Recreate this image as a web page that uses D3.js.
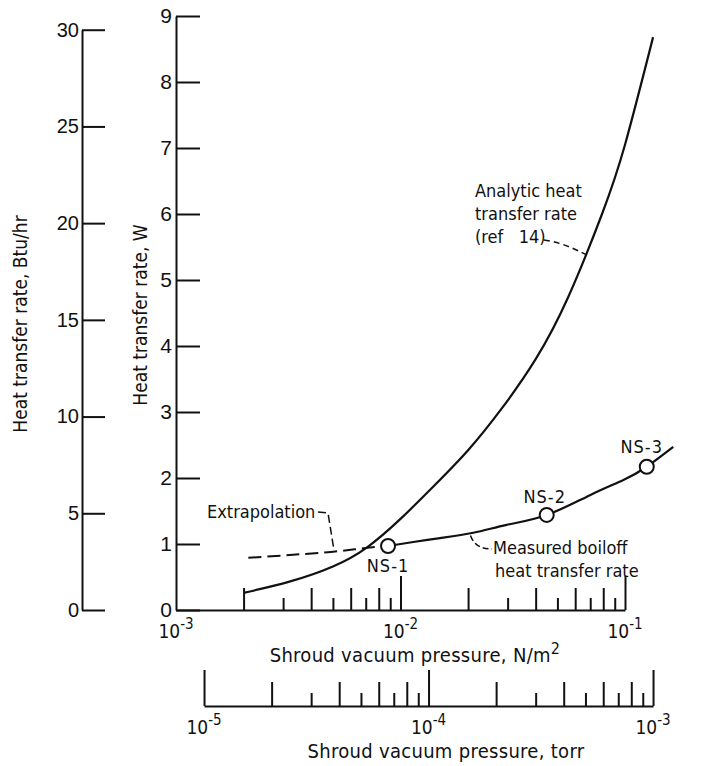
<!DOCTYPE html>
<html>
<head>
<meta charset="utf-8">
<script src="https://cdn.jsdelivr.net/npm/d3@7"></script>
<style>
  html, body { margin: 0; padding: 0; background: #fff; }
  svg { display: block; font-family: 'DejaVu Sans Condensed', 'DejaVu Sans', sans-serif; font-stretch: condensed; }
  .pre { white-space: pre; }
</style>
</head>
<body>
<svg id="chart" width="703" height="766"></svg>
<script>
// Analytic heat transfer rate (ref 14): shroud pressure (N/m^2) vs. heat rate (W)
const analyticPressure = [0.002, 0.0032, 0.005, 0.0071, 0.010, 0.0141, 0.020, 0.0282, 0.040, 0.056, 0.079, 0.100, 0.1334];
const analyticRate     = [0.26,  0.43,   0.66,  0.95,   1.38,  1.88,   2.42,  3.05,   3.80,  4.75,  6.00,  7.05,  8.68];

// Measured boiloff heat transfer rate
const measuredPressure = [0.0088, 0.0114, 0.0150, 0.0211, 0.0297, 0.0448, 0.0698, 0.0984, 0.125, 0.164];
const measuredRate     = [0.97,   1.03,   1.09,   1.17,   1.29,   1.44,   1.74,   1.97,   2.17,  2.47];

// Extrapolation of the measured curve to lower pressure
const extrapPressure = [0.0021, 0.0049, 0.0066, 0.0088];
const extrapRate     = [0.79,   0.88,   0.93,   0.97];

// Test points
const testNames    = ["NS-1", "NS-2", "NS-3"];
const testPressure = [0.0088, 0.0448, 0.125];
const testRate     = [0.97,   1.44,   2.17];

// Axis ticks
const rateTicksW     = [0, 1, 2, 3, 4, 5, 6, 7, 8, 9];
const rateTicksBtu   = [0, 5, 10, 15, 20, 25, 30];
const paDecades      = [1e-3, 1e-2, 1e-1];
const torrDecades    = [1e-5, 1e-4, 1e-3];

const BTU_PER_HR_PER_W = 3.41214;
const PA_PER_TORR = 133.322;

const svg = d3.select("#chart");
const ink = "#111";

const x = d3.scaleLog().domain([1e-3, 1e-1]).range([176, 625]);
const y = d3.scaleLinear().domain([0, 9]).range([610, 16]);
const yBtu = d3.scaleLinear().domain([0, 30]).range([y(0), y(30 / BTU_PER_HR_PER_W)]);
const xTorr = d3.scaleLog().domain([1e-5, 1e-3])
  .range([x(1e-5 * PA_PER_TORR), x(1e-3 * PA_PER_TORR)]);

// tick length by mantissa: decade long, even multiples medium, odd short
function logTickLen(d, major, even, odd) {
  const m = Math.round(d / Math.pow(10, Math.floor(Math.log10(d) + 1e-9)));
  return m === 1 ? major : (m % 2 === 0 ? even : odd);
}

function styleAxis(g) {
  g.selectAll("path.domain").attr("stroke", ink).attr("stroke-width", 2);
  g.selectAll(".tick line").attr("stroke", ink).attr("stroke-width", 2);
  g.selectAll(".tick text").attr("fill", ink);
}

// ---- Heat rate, W (inner left axis)
const gW = svg.append("g").attr("transform", `translate(${x.range()[0]},0)`)
  .call(d3.axisLeft(y).tickValues(rateTicksW).tickFormat(d3.format("d"))
    .tickSizeInner(-24).tickSizeOuter(0).tickPadding(4));
styleAxis(gW);
gW.selectAll(".tick text").attr("font-size", 21).attr("font-family", "inherit");

// ---- Heat rate, Btu/hr (outer left axis)
const gB = svg.append("g").attr("transform", "translate(82,0)")
  .call(d3.axisLeft(yBtu).tickValues(rateTicksBtu).tickFormat(d3.format("d"))
    .tickSizeInner(-23).tickSizeOuter(0).tickPadding(3));
styleAxis(gB);
gB.selectAll(".tick text").attr("font-size", 20).attr("font-family", "inherit");

// ---- Pressure, N/m^2 (bottom of plot)
const paTicks = x.ticks().filter(d => d >= x.domain()[0] * 0.999 && d <= x.domain()[1] * 1.001);
const gP = svg.append("g").attr("transform", `translate(0,${y(0)})`)
  .call(d3.axisTop(x).tickValues(paTicks).tickFormat("").tickSizeOuter(0));
styleAxis(gP);
gP.selectAll(".tick line").attr("y2", d => -logTickLen(d, 34, 22, 12));
gP.selectAll(".tick").filter(d => d === x.domain()[0]).remove();

// ---- Pressure, torr (second scale below)
const torrBase = 706;
const torrTicks = xTorr.ticks().filter(d => d >= 1e-5 * 0.999 && d <= 1e-3 * 1.001);
const gT = svg.append("g").attr("transform", `translate(0,${torrBase})`)
  .call(d3.axisTop(xTorr).tickValues(torrTicks).tickFormat("").tickSizeOuter(0));
styleAxis(gT);
gT.selectAll(".tick line").attr("y2", d => -logTickLen(d, 36, 24, 13));

// power-of-ten labels with superscript exponent
function powerLabel(sel, scale, values, baseY) {
  const t = sel.selectAll(null).data(values).enter().append("text")
    .attr("x", d => scale(d)).attr("y", baseY)
    .attr("text-anchor", "middle").attr("fill", ink).attr("font-size", 19);
  t.append("tspan").text("10");
  t.append("tspan").attr("dy", -9).attr("font-size", 15)
    .text(d => "-" + Math.abs(Math.round(Math.log10(d))));
}
powerLabel(svg, x, paDecades, y(0) + 28);
powerLabel(svg, xTorr, torrDecades, torrBase + 28);

// ---- Axis titles
const titleP = svg.append("text").attr("x", 415).attr("y", 662)
  .attr("text-anchor", "middle").attr("font-size", 20).attr("fill", ink)
  .attr("letter-spacing", 0.3);
titleP.append("tspan").text("Shroud vacuum pressure, N/m");
titleP.append("tspan").attr("dy", -8).attr("font-size", 16).text("2");

svg.append("text").attr("x", 446).attr("y", 758)
  .attr("text-anchor", "middle").attr("font-size", 20).attr("fill", ink)
  .attr("letter-spacing", 0.3)
  .text("Shroud vacuum pressure, torr");

svg.append("text").attr("transform", "translate(147,315) rotate(-90)")
  .attr("text-anchor", "middle").attr("font-size", 19).attr("fill", ink)
  .text("Heat transfer rate, W");

svg.append("text").attr("transform", "translate(27,324) rotate(-90)")
  .attr("text-anchor", "middle").attr("font-size", 19).attr("fill", ink)
  .text("Heat transfer rate, Btu/hr");

// ---- Curves
const smooth = d3.line().x(d => x(d[0])).y(d => y(d[1])).curve(d3.curveNatural);

svg.append("path").datum(d3.zip(analyticPressure, analyticRate))
  .attr("d", smooth).attr("fill", "none").attr("stroke", ink).attr("stroke-width", 2.2);

svg.append("path").datum(d3.zip(extrapPressure, extrapRate))
  .attr("d", smooth).attr("fill", "none").attr("stroke", ink).attr("stroke-width", 2)
  .attr("stroke-dasharray", "13,6");

svg.append("path").datum(d3.zip(measuredPressure, measuredRate))
  .attr("d", smooth).attr("fill", "none").attr("stroke", ink).attr("stroke-width", 2.2);

const tests = d3.zip(testNames, testPressure, testRate);
svg.selectAll("circle.test").data(tests).enter().append("circle")
  .attr("class", "test")
  .attr("cx", d => x(d[1])).attr("cy", d => y(d[2])).attr("r", 7)
  .attr("fill", "#fff").attr("stroke", ink).attr("stroke-width", 2);

// test point labels: NS-1 below its symbol, the others above
const labelOffset = { "NS-1": [0, 26], "NS-2": [-2, -12], "NS-3": [-5, -14] };
svg.selectAll("text.test").data(tests).enter().append("text")
  .attr("class", "test")
  .attr("x", d => x(d[1]) + labelOffset[d[0]][0])
  .attr("y", d => y(d[2]) + labelOffset[d[0]][1])
  .attr("text-anchor", "middle").attr("font-size", 18).attr("fill", ink)
  .attr("letter-spacing", 1)
  .text(d => d[0]);

// ---- Annotations with leaders
const note = (tx, ty, str) => svg.append("text").attr("class", "pre")
  .attr("x", tx).attr("y", ty).attr("font-size", 18).attr("fill", ink).text(str);

note(475, 197, "Analytic heat");
note(475, 220, "transfer rate");
note(475, 243, "(ref   14)");
svg.append("path")
  .attr("d", `M544,240 Q562,242 ${x(0.0674)},${y(5.38)}`)
  .attr("fill", "none").attr("stroke", ink).attr("stroke-width", 1.5).attr("stroke-dasharray", "6,4");

note(207, 518, "Extrapolation");
svg.append("path")
  .attr("d", `M318,512 L328,513 L${x(0.0049) + 3},${y(0.88) - 2}`)
  .attr("fill", "none").attr("stroke", ink).attr("stroke-width", 1.5).attr("stroke-dasharray", "8,4");

note(493, 554, "Measured boiloff");
note(495, 577, "heat transfer rate");
svg.append("path")
  .attr("d", `M${x(0.0205)},${y(1.16) + 2} Q475,549 492,549`)
  .attr("fill", "none").attr("stroke", ink).attr("stroke-width", 1.5).attr("stroke-dasharray", "6,3");
</script>
</body>
</html>
